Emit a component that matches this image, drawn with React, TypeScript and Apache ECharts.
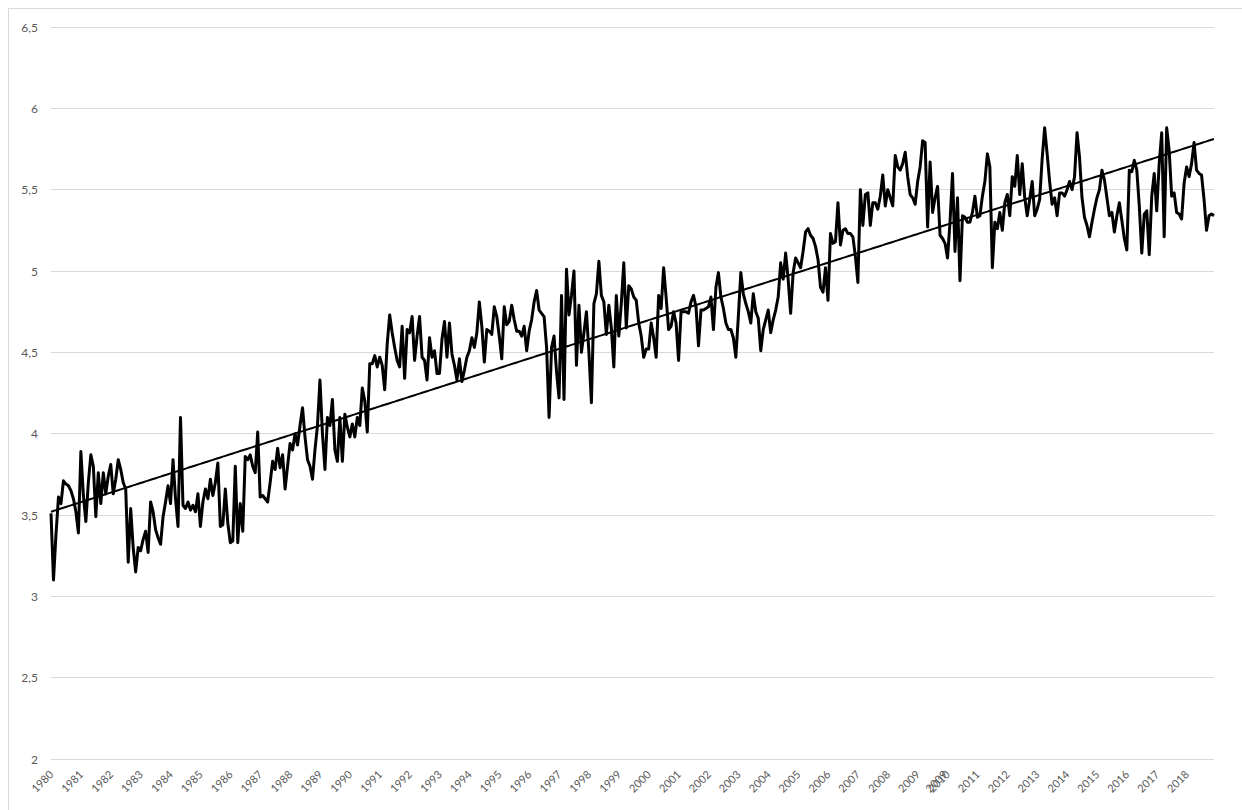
import React, { useEffect, useRef } from "react";
import * as echarts from "echarts";

// ---- data (monthly values, Jan 1980 – Dec 2018) ----
const START_YEAR = 1980;

const values1980s: number[] = [
  3.51, 3.10, 3.38, 3.61, 3.57, 3.71, 3.69, 3.68, 3.65, 3.60, 3.52, 3.39,
  3.89, 3.62, 3.46, 3.70, 3.87, 3.80, 3.49, 3.76, 3.57, 3.76, 3.63, 3.74,
  3.81, 3.63, 3.72, 3.84, 3.78, 3.70, 3.66, 3.21, 3.54, 3.30, 3.15, 3.30,
  3.28, 3.35, 3.40, 3.27, 3.58, 3.52, 3.41, 3.36, 3.32, 3.49, 3.58, 3.68,
  3.57, 3.84, 3.60, 3.43, 4.10, 3.56, 3.54, 3.58, 3.53, 3.56, 3.52, 3.63,
  3.43, 3.58, 3.66, 3.60, 3.72, 3.62, 3.70, 3.82, 3.43, 3.44, 3.66, 3.45,
  3.33, 3.34, 3.80, 3.33, 3.57, 3.40, 3.86, 3.84, 3.87, 3.80, 3.76, 4.01,
  3.61, 3.62, 3.60, 3.58, 3.70, 3.83, 3.78, 3.91, 3.79, 3.87, 3.66, 3.80,
  3.94, 3.90, 4.00, 3.93, 4.05, 4.16, 3.98, 3.84, 3.80, 3.72, 3.90, 4.05,
  4.33, 4.00, 3.78, 4.10, 4.05, 4.21, 3.90, 3.83, 4.10, 3.83, 4.12, 4.04,
];

const values1990s: number[] = [
  3.98, 4.06, 3.98, 4.10, 4.05, 4.28, 4.20, 4.01, 4.43, 4.43, 4.48, 4.41,
  4.47, 4.42, 4.27, 4.55, 4.73, 4.62, 4.53, 4.45, 4.41, 4.66, 4.34, 4.64,
  4.62, 4.72, 4.45, 4.60, 4.72, 4.47, 4.45, 4.33, 4.59, 4.47, 4.51, 4.37,
  4.37, 4.58, 4.69, 4.47, 4.68, 4.49, 4.42, 4.33, 4.46, 4.32, 4.39, 4.47,
  4.51, 4.59, 4.53, 4.62, 4.81, 4.66, 4.44, 4.64, 4.63, 4.61, 4.78, 4.72,
  4.60, 4.46, 4.78, 4.67, 4.69, 4.79, 4.70, 4.63, 4.63, 4.60, 4.66, 4.51,
  4.63, 4.70, 4.81, 4.88, 4.76, 4.74, 4.72, 4.53, 4.10, 4.53, 4.60, 4.38,
  4.22, 4.85, 4.21, 5.01, 4.73, 4.85, 5.00, 4.42, 4.79, 4.50, 4.62, 4.75,
  4.50, 4.19, 4.80, 4.86, 5.06, 4.85, 4.81, 4.61, 4.79, 4.65, 4.41, 4.85,
  4.60, 4.80, 5.05, 4.65, 4.91, 4.89, 4.84, 4.82, 4.68, 4.60, 4.47, 4.52,
];

const values2000s: number[] = [
  4.52, 4.68, 4.59, 4.47, 4.85, 4.77, 5.02, 4.84, 4.64, 4.66, 4.75, 4.68,
  4.45, 4.75, 4.75, 4.75, 4.74, 4.81, 4.85, 4.78, 4.54, 4.76, 4.76, 4.77,
  4.78, 4.84, 4.64, 4.90, 4.99, 4.84, 4.77, 4.68, 4.64, 4.64, 4.59, 4.47,
  4.72, 4.99, 4.86, 4.80, 4.75, 4.68, 4.86, 4.75, 4.71, 4.51, 4.64, 4.70,
  4.76, 4.62, 4.70, 4.76, 4.84, 5.05, 4.95, 5.11, 4.95, 4.74, 4.99, 5.08,
  5.05, 5.02, 5.12, 5.24, 5.26, 5.22, 5.20, 5.15, 5.07, 4.90, 4.87, 5.02,
  4.82, 5.23, 5.17, 5.18, 5.42, 5.16, 5.25, 5.26, 5.23, 5.23, 5.21, 5.09,
  4.93, 5.50, 5.28, 5.47, 5.48, 5.28, 5.42, 5.42, 5.38, 5.46, 5.59, 5.40,
  5.50, 5.45, 5.40, 5.71, 5.64, 5.62, 5.66, 5.73, 5.58, 5.47, 5.45, 5.41,
  5.55, 5.64, 5.80, 5.79, 5.27, 5.67, 5.36, 5.45, 5.52, 5.22, 5.20, 5.17,
];

const values2010s: number[] = [
  5.08, 5.30, 5.60, 5.12, 5.45, 4.94, 5.34, 5.33, 5.30, 5.30, 5.36, 5.46,
  5.33, 5.34, 5.46, 5.55, 5.72, 5.64, 5.02, 5.30, 5.26, 5.36, 5.25, 5.42,
  5.47, 5.34, 5.58, 5.52, 5.71, 5.47, 5.66, 5.45, 5.34, 5.44, 5.55, 5.34,
  5.38, 5.44, 5.69, 5.88, 5.72, 5.55, 5.41, 5.45, 5.34, 5.48, 5.48, 5.46,
  5.50, 5.55, 5.50, 5.58, 5.85, 5.70, 5.45, 5.33, 5.28, 5.21, 5.30, 5.38,
  5.45, 5.50, 5.62, 5.56, 5.45, 5.34, 5.36, 5.24, 5.34, 5.42, 5.31, 5.20,
  5.13, 5.62, 5.61, 5.68, 5.62, 5.40, 5.11, 5.35, 5.37, 5.10, 5.46, 5.60,
  5.37, 5.66, 5.85, 5.21, 5.88, 5.74, 5.46, 5.48, 5.36, 5.35, 5.32, 5.54,
  5.64, 5.58, 5.66, 5.79, 5.62, 5.60, 5.59, 5.44, 5.25, 5.34, 5.35, 5.34,
];

// x-axis tick labels (one per January) plus one extra stray label as in the source
const yearLabels: string[] = [
  "1980", "1981", "1982", "1983", "1984", "1985", "1986", "1987", "1988", "1989",
  "1990", "1991", "1992", "1993", "1994", "1995", "1996", "1997", "1998", "1999",
  "2000", "2001", "2002", "2003", "2004", "2005", "2006", "2007", "2008", "2009",
  "2010", "2011", "2012", "2013", "2014", "2015", "2016", "2017", "2018",
];
const extraLabels: { monthIndex: number; text: string }[] = [
  { monthIndex: 359, text: "2009" },
];

const Y_MIN = 2;
const Y_MAX = 6.5;
const Y_STEP = 0.5;

export default function App() {
  const ref = useRef<HTMLDivElement | null>(null);

  useEffect(() => {
    if (!ref.current) return;
    const chart = echarts.init(ref.current, undefined, { renderer: "svg" });

    const values = [...values1980s, ...values1990s, ...values2000s, ...values2010s];
    const n = values.length;
    const categories = values.map(
      (_, i) => `${START_YEAR + Math.floor(i / 12)}-${(i % 12) + 1}`
    );

    const labelMap = new Map<number, string>();
    yearLabels.forEach((t, k) => labelMap.set(k * 12, t));
    extraLabels.forEach((e) => labelMap.set(e.monthIndex, e.text));

    // linear (least-squares) trendline, as Excel draws it
    let sx = 0, sy = 0, sxx = 0, sxy = 0;
    values.forEach((v, i) => {
      sx += i; sy += v; sxx += i * i; sxy += i * v;
    });
    const slope = (n * sxy - sx * sy) / (n * sxx - sx * sx);
    const intercept = (sy - slope * sx) / n;
    const trend = values.map((_, i) => +(intercept + slope * i).toFixed(4));

    const gray = "#d9d9d9";
    const labelColor = "#595959";
    const font = "Lato, 'Open Sans', sans-serif";

    chart.setOption({
      animation: false,
      backgroundColor: "#ffffff",
      grid: { left: 51, right: 28, top: 27, bottom: 51, containLabel: false },
      graphic: [
        {
          type: "rect",
          shape: { x: 8.5, y: 8.5, width: 1260, height: 830 },
          style: { fill: "none", stroke: gray, lineWidth: 1 },
          silent: true,
          z: -10,
        },
      ],
      xAxis: {
        type: "category",
        data: categories,
        boundaryGap: false,
        axisLine: { show: false },
        axisTick: { show: false },
        splitLine: { show: false },
        axisLabel: {
          interval: (index: number) => labelMap.has(index),
          formatter: (_v: string, index: number) => labelMap.get(index) ?? "",
          rotate: 45,
          margin: 13,
          color: labelColor,
          fontSize: 11,
          fontFamily: font,
          hideOverlap: false,
        },
      },
      yAxis: {
        type: "value",
        min: Y_MIN,
        max: Y_MAX,
        interval: Y_STEP,
        axisLine: { show: false },
        axisTick: { show: false },
        splitLine: { show: true, lineStyle: { color: gray, width: 1 } },
        axisLabel: {
          margin: 13,
          color: labelColor,
          fontSize: 12,
          fontFamily: font,
          formatter: (v: number) => String(v).replace(".", ","),
        },
      },
      series: [
        {
          name: "Wert",
          type: "line",
          data: values,
          showSymbol: false,
          symbol: "none",
          lineStyle: { color: "#000000", width: 3, join: "round" },
          itemStyle: { color: "#000000" },
          z: 3,
        },
        {
          name: "Linear (Wert)",
          type: "line",
          data: trend,
          showSymbol: false,
          symbol: "none",
          lineStyle: { color: "#000000", width: 2 },
          z: 4,
        },
      ],
    });

    return () => chart.dispose();
  }, []);

  return (
    <div
      ref={ref}
      style={{ position: "absolute", left: 0, top: 0, width: 1242, height: 810 }}
    />
  );
}
